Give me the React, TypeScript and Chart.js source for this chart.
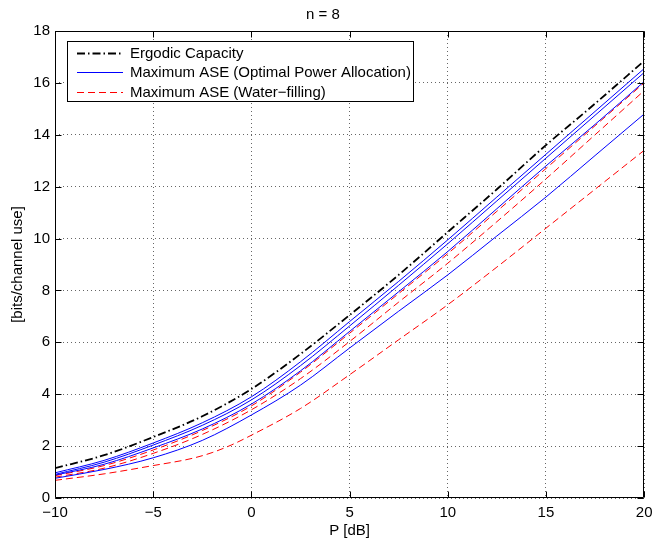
import React, { useEffect, useRef } from 'react';
import { Chart, registerables } from 'chart.js';

Chart.register(...registerables);

const TITLE = 'n = 8';
const X_LABEL = 'P [dB]';
const Y_LABEL = '[bits/channel use]';
const X_MIN = -10;
const X_MAX = 20;
const X_STEP = 5;
const Y_MIN = 0;
const Y_MAX = 18;
const Y_STEP = 2;

const LABEL_ERGODIC = 'Ergodic Capacity';
const LABEL_OPA = 'Maximum ASE (Optimal Power Allocation)';
const LABEL_WF = 'Maximum ASE (Water\u2212filling)';

const P_DB = [-10, -7.5, -5, -2.5, 0, 2.5, 5, 7.5, 10, 12.5, 15, 17.5, 20];
const ERGODIC = [1.15, 1.65, 2.35, 3.15, 4.2, 5.55, 7.05, 8.6, 10.25, 11.9, 13.6, 15.2, 16.85];
const OPA_1 = [0.97, 1.45, 2.12, 2.9, 3.9, 5.25, 6.8, 8.35, 9.95, 11.6, 13.25, 14.9, 16.55];
const OPA_2 = [0.91, 1.38, 2.04, 2.8, 3.78, 5.1, 6.63, 8.2, 9.8, 11.45, 13.1, 14.75, 16.4];
const OPA_3 = [0.88, 1.3, 1.93, 2.66, 3.62, 4.9, 6.42, 7.95, 9.5, 11.15, 12.8, 14.4, 16.05];
const OPA_4 = [0.76, 1.1, 1.55, 2.22, 3.2, 4.35, 5.78, 7.2, 8.6, 10.1, 11.6, 13.2, 14.8];
const WF_1 = [0.86, 1.25, 1.85, 2.6, 3.55, 4.85, 6.35, 7.88, 9.42, 11.05, 12.7, 14.35, 16.0];
const WF_2 = [0.8, 1.15, 1.72, 2.45, 3.4, 4.6, 6.03, 7.55, 9.05, 10.65, 12.3, 14.0, 15.7];
const P_DB_WF3 = [-10, -7.5, -5, -3, -2, -1, 0, 2.5, 5, 7.5, 10, 12.5, 15, 17.5, 20];
const WF_3 = [0.68, 0.93, 1.25, 1.53, 1.75, 2.05, 2.42, 3.45, 4.75, 6.1, 7.45, 8.9, 10.4, 11.9, 13.4];

const FONT_FAMILY = "'Liberation Sans', Arial, Helvetica, sans-serif";
const FONT_SIZE = 15;

const toPoints = (xs: number[], ys: number[]) => xs.map((x, i) => ({ x, y: ys[i] }));
const fmt = (v: number) => (v < 0 ? '\u2212' + Math.abs(v) : String(v));

const BLACK_DASH = [8, 3, 1.5, 3];
const RED_DASH = [7, 4];

const framePlugin = {
  id: 'frameAndLegend',
  afterDatasetsDraw(chart: any) {
    const { ctx, chartArea, scales } = chart;
    const { left, right, top, bottom } = chartArea;
    const xs = scales.x;
    const ys = scales.y;
    ctx.save();
    ctx.setLineDash([]);
    ctx.strokeStyle = '#000';
    ctx.lineWidth = 1;
    const L = Math.round(left) + 0.5;
    const R = Math.round(right) - 0.5;
    const T = Math.round(top) + 0.5;
    const B = Math.round(bottom) - 0.5;
    ctx.beginPath();
    ctx.rect(L, T, R - L, B - T);
    const tl = 6;
    xs.ticks.forEach((t: any) => {
      const px = Math.round(xs.getPixelForValue(t.value)) + 0.5;
      ctx.moveTo(px, B);
      ctx.lineTo(px, B - tl);
      ctx.moveTo(px, T);
      ctx.lineTo(px, T + tl);
    });
    ys.ticks.forEach((t: any) => {
      const py = Math.round(ys.getPixelForValue(t.value)) + 0.5;
      ctx.moveTo(L, py);
      ctx.lineTo(L + tl, py);
      ctx.moveTo(R, py);
      ctx.lineTo(R - tl, py);
    });
    ctx.stroke();
    ctx.restore();
  },
  afterDraw(chart: any) {
    const { ctx, chartArea } = chart;
    const labels: string[] = [];
    const styles: any[] = [];
    chart.data.datasets.forEach((ds: any) => {
      if (!labels.includes(ds.label)) {
        labels.push(ds.label);
        styles.push(ds);
      }
    });
    ctx.save();
    ctx.font = `${FONT_SIZE}px ${FONT_FAMILY}`;
    const boxL = Math.round(chartArea.left) + 12;
    const boxT = Math.round(chartArea.top) + 10;
    const textX = boxL + 63;
    const maxW = Math.max(...labels.map((t) => ctx.measureText(t).width));
    const boxW = Math.round(textX + maxW + 2 - boxL);
    const boxH = 60;
    ctx.fillStyle = '#fff';
    ctx.fillRect(boxL, boxT, boxW, boxH);
    ctx.strokeStyle = '#000';
    ctx.lineWidth = 1;
    ctx.setLineDash([]);
    ctx.strokeRect(boxL + 0.5, boxT + 0.5, boxW, boxH);
    labels.forEach((lab, i) => {
      const y = Math.round(boxT + 12 + i * 19.3) + 0.5;
      const s = styles[i];
      ctx.save();
      ctx.strokeStyle = s.borderColor;
      ctx.lineWidth = s.borderWidth;
      ctx.setLineDash(s.borderDash || []);
      ctx.beginPath();
      ctx.moveTo(boxL + 10, y);
      ctx.lineTo(boxL + 56, y);
      ctx.stroke();
      ctx.restore();
      ctx.fillStyle = '#000';
      ctx.textBaseline = 'middle';
      ctx.textAlign = 'left';
      ctx.fillText(lab, textX, y);
    });
    ctx.restore();
  },
};

export default function App() {
  const ref = useRef<HTMLCanvasElement | null>(null);

  useEffect(() => {
    if (!ref.current) return;
    const blue = (data: number[]) => ({
      label: LABEL_OPA,
      data: toPoints(P_DB, data),
      borderColor: '#0000ff',
      borderWidth: 1,
      borderDash: [],
    });
    const red = (xs: number[], data: number[]) => ({
      label: LABEL_WF,
      data: toPoints(xs, data),
      borderColor: '#ff0000',
      borderWidth: 1,
      borderDash: RED_DASH,
    });
    const datasets: any[] = [
      {
        label: LABEL_ERGODIC,
        data: toPoints(P_DB, ERGODIC),
        borderColor: '#000000',
        borderWidth: 1.8,
        borderDash: BLACK_DASH,
      },
      blue(OPA_1),
      blue(OPA_2),
      blue(OPA_3),
      blue(OPA_4),
      red(P_DB, WF_1),
      red(P_DB, WF_2),
      red(P_DB_WF3, WF_3),
    ].map((d) => ({
      ...d,
      pointRadius: 0,
      fill: false,
      cubicInterpolationMode: 'monotone',
    }));

    const tickFont = { family: FONT_FAMILY, size: FONT_SIZE, lineHeight: 1.2 };
    const chart = new Chart(ref.current, {
      type: 'line',
      data: { datasets },
      plugins: [framePlugin],
      options: {
        animation: false,
        responsive: false,
        devicePixelRatio: 1,
        layout: { padding: { left: 0, right: 12, top: 0, bottom: 0 } },
        plugins: {
          legend: { display: false },
          tooltip: { enabled: false },
          title: {
            display: true,
            text: TITLE,
            color: '#000',
            font: { family: FONT_FAMILY, size: FONT_SIZE, weight: 'normal', lineHeight: 1.2 },
            padding: { top: 6, bottom: 7 },
          },
        },
        scales: {
          x: {
            type: 'linear',
            min: X_MIN,
            max: X_MAX,
            afterFit: (s: any) => {
              s.height = 48;
            },
            ticks: {
              stepSize: X_STEP,
              color: '#000',
              font: tickFont,
              padding: 5.5,
              maxRotation: 0,
              callback: (v: any) => fmt(Number(v)),
            },
            grid: { color: 'rgba(0,0,0,0.6)', drawTicks: false, lineWidth: 1 },
            border: { display: false, dash: [1, 3] },
            title: {
              display: true,
              text: X_LABEL,
              color: '#000',
              font: { family: FONT_FAMILY, size: FONT_SIZE, lineHeight: 1.2 },
              padding: { top: 0, bottom: 6 },
            },
          },
          y: {
            type: 'linear',
            min: Y_MIN,
            max: Y_MAX,
            afterFit: (s: any) => {
              s.width = 55;
            },
            ticks: {
              stepSize: Y_STEP,
              color: '#000',
              font: tickFont,
              padding: 5,
              callback: (v: any) => fmt(Number(v)),
            },
            grid: { color: 'rgba(0,0,0,0.6)', drawTicks: false, lineWidth: 1 },
            border: { display: false, dash: [1, 3] },
            title: {
              display: true,
              text: Y_LABEL,
              color: '#000',
              font: { family: FONT_FAMILY, size: FONT_SIZE, lineHeight: 1.2 },
              padding: { top: 9, bottom: 0 },
            },
          },
        },
      } as any,
    });
    return () => chart.destroy();
  }, []);

  return (
    <div style={{ position: 'fixed', left: 0, top: 0, width: 658, height: 546, background: '#fff' }}>
      <canvas ref={ref} width={658} height={546} style={{ width: 658, height: 546, display: 'block' }} />
    </div>
  );
}
